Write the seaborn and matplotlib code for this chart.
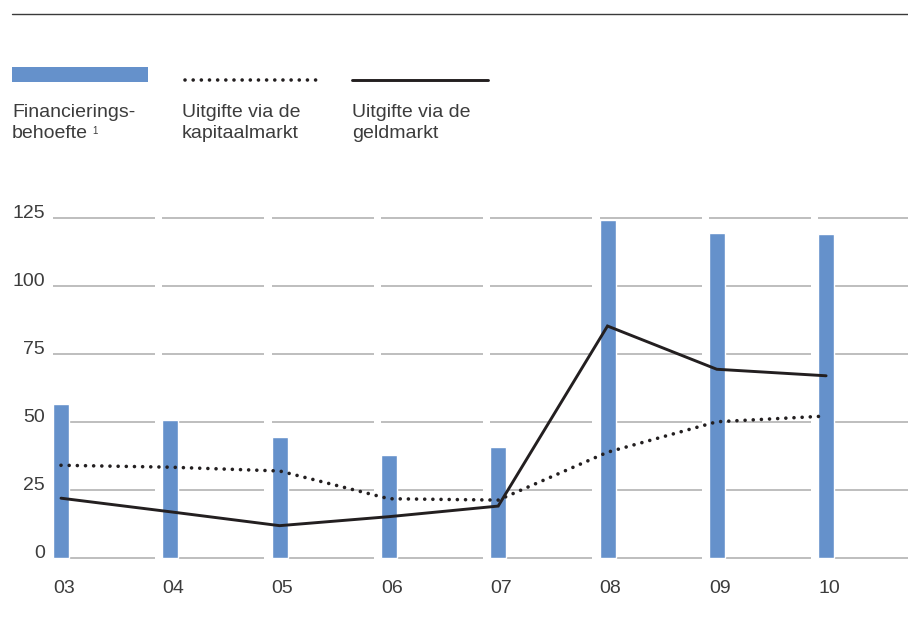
import numpy as np
import pandas as pd
import matplotlib
matplotlib.use("Agg")
import matplotlib.pyplot as plt
from matplotlib.patches import Rectangle
from matplotlib.lines import Line2D
import seaborn as sns

# Data (billions)
years = ["03", "04", "05", "06", "07", "08", "09", "10"]
financieringsbehoefte = [56.7, 50.8, 44.6, 38.0, 40.9, 124.4, 119.6, 119.2]
kapitaalmarkt = [34.2, 33.5, 32.1, 21.9, 21.4, 39.0, 50.2, 52.3]
geldmarkt = [22.1, 17.1, 12.0, 15.3, 19.2, 85.4, 69.5, 67.1]
y_ticks = [0, 25, 50, 75, 100, 125]

legend_labels = [("Financierings-", "behoefte"),
                 ("Uitgifte via de", "kapitaalmarkt"),
                 ("Uitgifte via de", "geldmarkt")]

BAR_COLOR = "#6591cb"
LINE_COLOR = "#231f20"
TEXT_COLOR = "#3c3c3c"
GRID_COLOR = "#b9b9b9"
FS = 14
DOT_LW = 2.6
DOTS = (0, (0.01, 2.25))

sns.set_theme(style="white")
plt.rcParams["font.family"] = ["Liberation Sans", "DejaVu Sans"]

W, H = 908, 619
fig = plt.figure(figsize=(W / 100, H / 100), dpi=100)

# axes geometry in pixels
px_per_step = 109.3
bar_w_px = 16
left_px = 53
unit_px = 2.72
y0_px = 558.3
ylo, yhi = -2, 130
ax_bottom_px = y0_px - ylo * unit_px
ax_top_px = y0_px - yhi * unit_px
ax = fig.add_axes([left_px / W, (H - ax_bottom_px) / H,
                   (W - left_px) / W, (ax_bottom_px - ax_top_px) / H])

half = bar_w_px / 2 / px_per_step
xmin = -half
xmax = (W - left_px) / px_per_step + xmin

df = pd.DataFrame({
    "year": years,
    "pos": np.arange(len(years)),
    "fin": financieringsbehoefte,
    "kap": kapitaalmarkt,
    "geld": geldmarkt,
})

# segmented horizontal gridlines, one piece per year band
seg_len = 102 / px_per_step
for yv in y_ticks:
    for i in range(len(years)):
        x_start = i - half
        x_end = x_start + seg_len if i < len(years) - 1 else xmax
        ax.hlines(yv, x_start, x_end, color=GRID_COLOR, lw=1.3, zorder=0)

sns.barplot(data=df, x="year", y="fin", color=BAR_COLOR, width=bar_w_px / px_per_step,
            saturation=1, ax=ax, zorder=2)

sns.lineplot(data=df, x="pos", y="geld", color=LINE_COLOR, lw=2.1, ax=ax, zorder=4,
             solid_joinstyle="miter")
sns.lineplot(data=df, x="pos", y="kap", color=LINE_COLOR, lw=DOT_LW, ax=ax, zorder=3,
             linestyle=DOTS, dash_capstyle="round")

ax.set_xlim(xmin, xmax)
ax.set_ylim(ylo, yhi)
ax.set_xlabel("")
ax.set_ylabel("")
for s in ax.spines.values():
    s.set_visible(False)

# x labels, left aligned with each bar
ax.set_xticks(np.arange(len(years)) - half)
ax.set_xticklabels(years, ha="left", fontsize=FS, color=TEXT_COLOR)
ax.tick_params(axis="x", length=0, pad=12)

ax.set_yticks(y_ticks)
ax.set_yticklabels([str(v) for v in y_ticks], fontsize=FS, color=TEXT_COLOR, va="baseline")
ax.tick_params(axis="y", length=0, pad=5.8)

# top rule
fig.add_artist(Line2D([12 / W, 1.0], [1 - 14 / H, 1 - 14 / H], color="#3a3a3a", lw=1.0))

# legend
fig.add_artist(Rectangle((12 / W, 1 - 82 / H), 136 / W, 15 / H, color=BAR_COLOR, lw=0))
fig.add_artist(Line2D([185 / W, 318 / W], [1 - 80 / H, 1 - 80 / H], color=LINE_COLOR, lw=DOT_LW,
                      linestyle=DOTS, dash_capstyle="round"))
fig.add_artist(Line2D([352 / W, 488 / W], [1 - 80 / H, 1 - 80 / H], color=LINE_COLOR, lw=2.1))

text_x = [12, 182, 352]
for tx, (l1, l2) in zip(text_x, legend_labels):
    fig.text(tx / W, 1 - 117 / H, l1, fontsize=FS, color=TEXT_COLOR, va="baseline", ha="left")
    fig.text(tx / W, 1 - 138 / H, l2, fontsize=FS, color=TEXT_COLOR, va="baseline", ha="left")
# footnote marker
fig.text(92 / W, 1 - 133.5 / H, "1", fontsize=7, color=TEXT_COLOR, va="baseline", ha="left")

fig.savefig("out.png", dpi=100)
